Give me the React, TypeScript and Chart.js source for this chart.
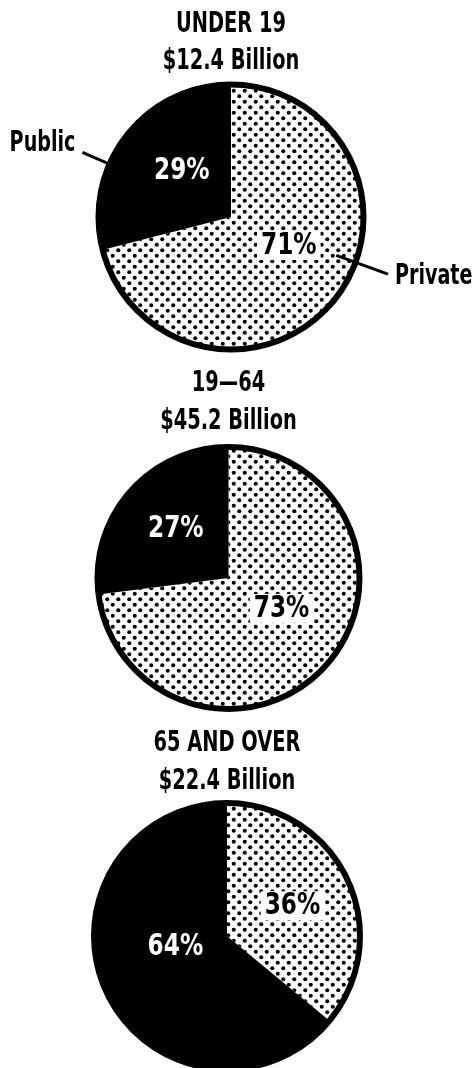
import React, { useEffect, useRef } from "react";
import { Chart, registerables } from "chart.js";

Chart.register(...registerables);

// ---- data ----
const AGE_GROUPS = ["UNDER 19", "19—64", "65 AND OVER"];
const TOTALS = ["$12.4 Billion", "$45.2 Billion", "$22.4 Billion"];
const CATEGORIES = ["Private", "Public"];
const PRIVATE_PCT = [71, 73, 36];
const PUBLIC_PCT = [29, 27, 64];

// ---- presentation ----
const FONT = '"Liberation Sans Narrow", "DejaVu Sans Condensed", "Arial Narrow", sans-serif';
const TITLE_SIZE = 28;
const TITLE_SCALE = 0.77;
const PCT_SIZE = 30;
const PCT_SCALE = 0.86;
const CALLOUT_SIZE = 28;
const CALLOUT_SCALE = 0.76;

type Place = { shift: number; frac: number };
type Callout = { angle: number; r0: number; r1: number; dx: number; dy: number; align: CanvasTextAlign };

const PANELS: {
  top: number;
  height: number;
  padTop: number;
  padRight: number;
  padBottom: number;
  titleY: number[];
  radius: number;
  places: Place[];
  callouts: Callout[] | null;
}[] = [
  {
    top: 0,
    height: 360,
    padTop: 80,
    padRight: 10,
    padBottom: 6,
    titleY: [25, 62],
    radius: 131,
    places: [
      { shift: -12, frac: 0.49 },
      { shift: 6, frac: 0.52 },
    ],
    callouts: [
      { angle: 20, r0: 112, r1: 167, dx: 7, dy: 3, align: "left" },
      { angle: 203.5, r0: 135, r1: 162, dx: -7, dy: -9, align: "right" },
    ],
  },
  {
    top: 360,
    height: 360,
    padTop: 80,
    padRight: 15,
    padBottom: 4,
    titleY: [24, 62],
    radius: 129.5,
    places: [
      { shift: -12, frac: 0.47 },
      { shift: 2, frac: 0.56 },
    ],
    callouts: null,
  },
  {
    top: 718,
    height: 350,
    padTop: 86,
    padRight: 18,
    padBottom: 0,
    titleY: [26, 64],
    radius: 131.5,
    places: [
      { shift: 0, frac: 0.55 },
      { shift: 14, frac: 0.4 },
    ],
    callouts: null,
  },
];

function makeDots(ctx: CanvasRenderingContext2D): CanvasPattern | string {
  const c = document.createElement("canvas");
  c.width = 11;
  c.height = 11;
  const g = c.getContext("2d");
  if (!g) return "#888";
  g.fillStyle = "#fff";
  g.fillRect(0, 0, 11, 11);
  g.fillStyle = "#000";
  for (const [px, py] of [
    [2.75, 2.75],
    [8.25, 8.25],
  ]) {
    g.beginPath();
    g.arc(px, py, 2.05, 0, Math.PI * 2);
    g.fill();
  }
  return ctx.createPattern(c, "repeat") || "#888";
}

function scaledText(
  ctx: CanvasRenderingContext2D,
  text: string,
  x: number,
  y: number,
  sx: number,
  align: CanvasTextAlign
) {
  ctx.save();
  ctx.translate(x, y);
  ctx.scale(sx, 1);
  ctx.textAlign = align;
  ctx.textBaseline = "middle";
  ctx.fillText(text, 0, 0);
  ctx.restore();
}

const decorPlugin = {
  id: "pieDecor",
  afterDatasetsDraw(chart: any, _args: any, opts: any) {
    const meta = chart.getDatasetMeta(0);
    const arcs = meta.data as any[];
    if (!arcs.length) return;
    const ctx: CanvasRenderingContext2D = chart.ctx;
    const { x, y, outerRadius } = arcs[0].getProps(["x", "y", "outerRadius"], true);
    ctx.save();

    // title (two lines, condensed)
    ctx.fillStyle = "#000";
    ctx.font = `bold ${TITLE_SIZE}px ${FONT}`;
    (opts.title as string[]).forEach((line, i) => {
      scaledText(ctx, line, x, opts.titleY[i], TITLE_SCALE, "center");
    });

    // outer ring
    ctx.beginPath();
    ctx.arc(x, y, outerRadius + 1.5, 0, Math.PI * 2);
    ctx.lineWidth = 6;
    ctx.strokeStyle = "#000";
    ctx.stroke();

    // percentage labels
    ctx.font = `bold ${PCT_SIZE}px ${FONT}`;
    arcs.forEach((arc: any, i: number) => {
      const p = arc.getProps(["startAngle", "endAngle"], true);
      const place: Place = opts.places[i];
      const a = (p.startAngle + p.endAngle) / 2 + (place.shift * Math.PI) / 180;
      const r = outerRadius * place.frac;
      const lx = x + Math.cos(a) * r;
      const ly = y + Math.sin(a) * r;
      const text = `${chart.data.datasets[0].data[i]}%`;
      const dark = i === 0;
      if (dark) {
        const w = ctx.measureText(text).width * PCT_SCALE;
        ctx.fillStyle = "#fff";
        ctx.fillRect(lx - w / 2 - 4, ly - 14, w + 8, 29);
        ctx.fillStyle = "#000";
      } else {
        ctx.fillStyle = "#fff";
      }
      scaledText(ctx, text, lx, ly + 1, PCT_SCALE, "center");
    });

    // callouts
    if (opts.callouts) {
      ctx.font = `bold ${CALLOUT_SIZE}px ${FONT}`;
      (opts.callouts as Callout[]).forEach((c, i) => {
        const a = (c.angle * Math.PI) / 180;
        const sx = x + Math.cos(a) * c.r0;
        const sy = y + Math.sin(a) * c.r0;
        const ex = x + Math.cos(a) * c.r1;
        const ey = y + Math.sin(a) * c.r1;
        ctx.beginPath();
        ctx.moveTo(sx, sy);
        ctx.lineTo(ex, ey);
        ctx.lineWidth = 3;
        ctx.strokeStyle = "#000";
        ctx.stroke();
        ctx.fillStyle = "#000";
        scaledText(ctx, chart.data.labels[i], ex + c.dx, ey + c.dy, CALLOUT_SCALE, c.align);
      });
    }
    ctx.restore();
  },
};

function PiePanel({ index }: { index: number }) {
  const ref = useRef<HTMLCanvasElement | null>(null);
  const panel = PANELS[index];
  useEffect(() => {
    const canvas = ref.current;
    if (!canvas) return;
    const ctx = canvas.getContext("2d");
    if (!ctx) return;
    const dots = makeDots(ctx);
    const chart = new Chart(canvas, {
      type: "pie",
      data: {
        labels: CATEGORIES,
        datasets: [
          {
            data: [PRIVATE_PCT[index], PUBLIC_PCT[index]],
            backgroundColor: [dots as any, "#000"],
            borderWidth: 0,
            hoverOffset: 0,
            radius: panel.radius,
          } as any,
        ],
      },
      options: {
        responsive: false,
        maintainAspectRatio: false,
        animation: false,
        events: [],
        layout: {
          padding: { left: 0, right: panel.padRight, top: panel.padTop, bottom: panel.padBottom },
        },
        plugins: {
          legend: { display: false },
          tooltip: { enabled: false },
          title: { display: false },
          pieDecor: {
            places: panel.places,
            callouts: panel.callouts,
            title: [AGE_GROUPS[index], TOTALS[index]],
            titleY: panel.titleY,
          },
        } as any,
      },
      plugins: [decorPlugin],
    });
    return () => chart.destroy();
  }, [index]);
  return (
    <canvas
      ref={ref}
      width={472}
      height={panel.height}
      style={{ position: "absolute", left: 0, top: panel.top, width: 472, height: panel.height }}
    />
  );
}

export default function App() {
  return (
    <div
      style={{
        position: "absolute",
        left: 0,
        top: 0,
        width: 472,
        height: 1068,
        overflow: "hidden",
        background: "#fff",
      }}
    >
      {PANELS.map((_, i) => (
        <PiePanel key={i} index={i} />
      ))}
    </div>
  );
}
